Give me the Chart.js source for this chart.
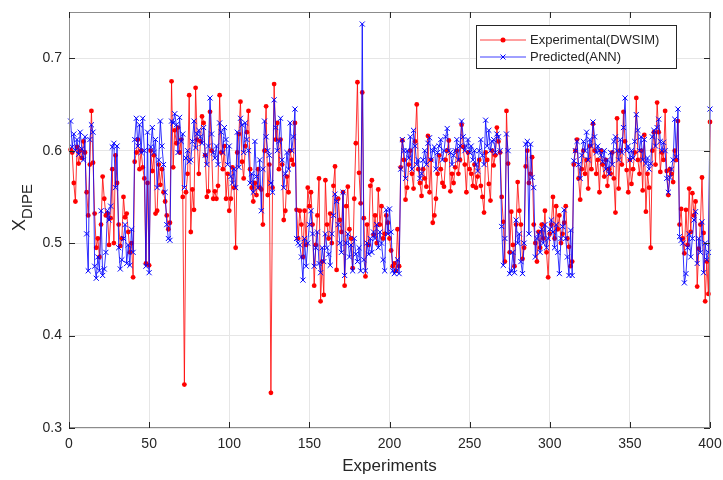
<!DOCTYPE html>
<html>
<head>
<meta charset="utf-8">
<script src="https://cdn.jsdelivr.net/npm/chart.js@4.4.1/dist/chart.umd.min.js"></script>
<style>
    body { margin: 0; background: #ffffff; }
    #xdipeChart { display: block; }
</style>
</head>
<body>
<canvas id="xdipeChart" width="723" height="480"></canvas>
<script>
const experimental = [
    0.601, 0.598, 0.565, 0.545, 0.604, 0.586, 0.600, 0.592, 0.610, 0.598,
    0.555, 0.530, 0.585, 0.643, 0.587, 0.532, 0.495, 0.505, 0.485, 0.520,
    0.572, 0.548, 0.530, 0.532, 0.498, 0.527, 0.580, 0.500, 0.595, 0.565,
    0.520, 0.497, 0.505, 0.550, 0.528, 0.532, 0.512, 0.490, 0.500, 0.463,
    0.588, 0.598, 0.612, 0.580, 0.600, 0.582, 0.570, 0.478, 0.565, 0.476,
    0.600, 0.578, 0.595, 0.532, 0.535, 0.585, 0.563, 0.580, 0.555, 0.545,
    0.530, 0.515, 0.522, 0.675, 0.582, 0.622, 0.608, 0.625, 0.598, 0.612,
    0.550, 0.347, 0.555, 0.575, 0.660, 0.512, 0.558, 0.536, 0.668, 0.612,
    0.575, 0.610, 0.637, 0.630, 0.595, 0.550, 0.556, 0.642, 0.600, 0.548,
    0.556, 0.548, 0.562, 0.660, 0.598, 0.580, 0.605, 0.548, 0.575, 0.535,
    0.548, 0.582, 0.560, 0.495, 0.598, 0.618, 0.653, 0.588, 0.570, 0.605,
    0.620, 0.643, 0.580, 0.560, 0.545, 0.565, 0.552, 0.580, 0.560, 0.558,
    0.520, 0.600, 0.648, 0.552, 0.585, 0.338, 0.560, 0.672, 0.612, 0.630,
    0.580, 0.612, 0.585, 0.525, 0.535, 0.572, 0.555, 0.600, 0.590, 0.585,
    0.630, 0.536, 0.505, 0.535, 0.520, 0.485, 0.535, 0.498, 0.560, 0.540,
    0.555, 0.520, 0.454, 0.498, 0.530, 0.570, 0.437, 0.480, 0.444, 0.568,
    0.520, 0.505, 0.532, 0.500, 0.562, 0.583, 0.471, 0.548, 0.525, 0.512,
    0.555, 0.454, 0.540, 0.561, 0.515, 0.505, 0.473, 0.548, 0.608, 0.674,
    0.576, 0.543, 0.663, 0.527, 0.464, 0.520, 0.498, 0.562, 0.568, 0.509,
    0.530, 0.500, 0.558, 0.520, 0.540, 0.505, 0.510, 0.530, 0.522, 0.505,
    0.492, 0.475, 0.478, 0.470, 0.515, 0.475, 0.582, 0.611, 0.590, 0.547,
    0.560, 0.585, 0.600, 0.575, 0.559, 0.610, 0.650, 0.580, 0.565, 0.551,
    0.580, 0.570, 0.561, 0.616, 0.555, 0.590, 0.522, 0.530, 0.548, 0.575,
    0.595, 0.580, 0.565, 0.561, 0.590, 0.600, 0.611, 0.556, 0.575, 0.565,
    0.582, 0.600, 0.575, 0.590, 0.628, 0.604, 0.585, 0.555, 0.598, 0.580,
    0.575, 0.562, 0.585, 0.560, 0.572, 0.590, 0.562, 0.550, 0.533, 0.598,
    0.590, 0.564, 0.546, 0.600, 0.584, 0.595, 0.625, 0.610, 0.598, 0.550,
    0.523, 0.480, 0.643, 0.586, 0.490, 0.534, 0.498, 0.475, 0.520, 0.566,
    0.535, 0.520, 0.483, 0.495, 0.583, 0.600, 0.565, 0.575, 0.593, 0.520,
    0.500, 0.480, 0.512, 0.495, 0.520, 0.505, 0.535, 0.490, 0.463, 0.510,
    0.520, 0.550, 0.505, 0.540, 0.515, 0.530, 0.500, 0.510, 0.522, 0.540,
    0.505, 0.496, 0.475, 0.480, 0.585, 0.600, 0.612, 0.570, 0.547, 0.580,
    0.600, 0.575, 0.590, 0.559, 0.605, 0.580, 0.629, 0.600, 0.575, 0.590,
    0.555, 0.600, 0.585, 0.572, 0.590, 0.562, 0.580, 0.575, 0.598, 0.570,
    0.533, 0.635, 0.559, 0.600, 0.585, 0.642, 0.610, 0.579, 0.555, 0.590,
    0.564, 0.580, 0.598, 0.657, 0.590, 0.575, 0.600, 0.557, 0.617, 0.534,
    0.575, 0.560, 0.495, 0.600, 0.620, 0.585, 0.652, 0.620, 0.577, 0.598,
    0.590, 0.643, 0.578, 0.552, 0.580, 0.575, 0.566, 0.600, 0.590, 0.632,
    0.520, 0.537, 0.505, 0.489, 0.536, 0.498, 0.559, 0.512, 0.554, 0.530,
    0.545, 0.453, 0.494, 0.520, 0.571, 0.511, 0.437, 0.480, 0.445, 0.631
];

const predicted = [
    0.632, 0.604, 0.618, 0.600, 0.612, 0.596, 0.620, 0.602, 0.590, 0.615,
    0.510, 0.470, 0.612, 0.628, 0.620, 0.475, 0.462, 0.485, 0.470, 0.535,
    0.465, 0.472, 0.490, 0.535, 0.525, 0.540, 0.604, 0.608, 0.560, 0.605,
    0.495, 0.472, 0.482, 0.505, 0.520, 0.478, 0.498, 0.476, 0.515, 0.490,
    0.612, 0.635, 0.605, 0.628, 0.598, 0.635, 0.600, 0.475, 0.620, 0.468,
    0.604, 0.625, 0.598, 0.612, 0.560, 0.590, 0.632, 0.605, 0.585, 0.555,
    0.520, 0.505, 0.503, 0.632, 0.630, 0.640, 0.628, 0.598, 0.636, 0.610,
    0.618, 0.560, 0.592, 0.600, 0.588, 0.590, 0.610, 0.632, 0.603, 0.618,
    0.622, 0.615, 0.608, 0.625, 0.595, 0.585, 0.605, 0.657, 0.618, 0.598,
    0.592, 0.605, 0.585, 0.630, 0.620, 0.598, 0.625, 0.612, 0.585, 0.605,
    0.572, 0.565, 0.580, 0.560, 0.620, 0.582, 0.635, 0.628, 0.598, 0.630,
    0.612, 0.600, 0.565, 0.575, 0.555, 0.610, 0.572, 0.560, 0.590, 0.535,
    0.580, 0.632, 0.615, 0.600, 0.595, 0.565, 0.555, 0.655, 0.625, 0.600,
    0.610, 0.635, 0.590, 0.560, 0.575, 0.598, 0.580, 0.630, 0.600, 0.615,
    0.645, 0.505, 0.500, 0.498, 0.485, 0.460, 0.505, 0.475, 0.500, 0.520,
    0.535, 0.510, 0.475, 0.495, 0.512, 0.478, 0.468, 0.495, 0.480, 0.510,
    0.495, 0.488, 0.476, 0.510, 0.530, 0.553, 0.545, 0.520, 0.500, 0.490,
    0.555, 0.465, 0.500, 0.510, 0.485, 0.498, 0.470, 0.505, 0.488, 0.480,
    0.495, 0.470, 0.737, 0.482, 0.470, 0.500, 0.488, 0.505, 0.490, 0.512,
    0.505, 0.520, 0.495, 0.512, 0.500, 0.482, 0.470, 0.536, 0.510, 0.537,
    0.512, 0.470, 0.467, 0.470, 0.482, 0.467, 0.580, 0.612, 0.600, 0.570,
    0.600, 0.592, 0.615, 0.580, 0.622, 0.605, 0.585, 0.590, 0.570, 0.575,
    0.590, 0.600, 0.585, 0.608, 0.614, 0.590, 0.600, 0.604, 0.580, 0.598,
    0.605, 0.612, 0.590, 0.600, 0.615, 0.624, 0.600, 0.598, 0.585, 0.595,
    0.600, 0.612, 0.590, 0.605, 0.632, 0.615, 0.600, 0.605, 0.612, 0.598,
    0.605, 0.590, 0.600, 0.585, 0.578, 0.600, 0.612, 0.595, 0.585, 0.633,
    0.605, 0.622, 0.600, 0.610, 0.612, 0.598, 0.618, 0.615, 0.600, 0.518,
    0.476, 0.505, 0.618, 0.600, 0.467, 0.470, 0.490, 0.468, 0.525, 0.500,
    0.510, 0.480, 0.467, 0.500, 0.607, 0.610, 0.510, 0.607, 0.571, 0.560,
    0.485, 0.505, 0.510, 0.490, 0.515, 0.500, 0.520, 0.495, 0.505, 0.515,
    0.525, 0.512, 0.495, 0.520, 0.490, 0.467, 0.505, 0.518, 0.536, 0.505,
    0.485, 0.465, 0.514, 0.465, 0.589, 0.600, 0.610, 0.585, 0.570, 0.595,
    0.610, 0.600, 0.620, 0.590, 0.612, 0.605, 0.631, 0.615, 0.598, 0.605,
    0.600, 0.595, 0.588, 0.600, 0.580, 0.590, 0.575, 0.598, 0.585, 0.610,
    0.615, 0.600, 0.590, 0.612, 0.598, 0.625, 0.657, 0.600, 0.605, 0.590,
    0.600, 0.592, 0.610, 0.639, 0.622, 0.600, 0.615, 0.590, 0.612, 0.586,
    0.592, 0.580, 0.586, 0.615, 0.622, 0.605, 0.625, 0.634, 0.610, 0.600,
    0.609, 0.600, 0.570, 0.555, 0.571, 0.580, 0.590, 0.634, 0.593, 0.645,
    0.507, 0.503, 0.500, 0.457, 0.467, 0.495, 0.510, 0.485, 0.505, 0.525,
    0.534, 0.478, 0.505, 0.490, 0.523, 0.468, 0.500, 0.482, 0.490, 0.645
];

const experiments = experimental.map((_, i) => i + 1);
const xTicks = [0, 50, 100, 150, 200, 250, 300, 350, 400];
const yTicks = [0.3, 0.4, 0.5, 0.6, 0.7];
const seriesNames = ['Experimental(DWSIM)', 'Predicted(ANN)'];

const RED = '#ff0000';
const BLUE = '#0000ff';
const TEXT = '#262626';
const FONT = '"Liberation Sans", Arial, sans-serif';

// box, inward ticks, axis titles and legend, MATLAB style
const matlabFrame = {
    id: 'matlabFrame',
    afterDraw(chart) {
        const { ctx, chartArea: a, scales } = chart;
        ctx.save();

        ctx.strokeStyle = '#8c8c8c';
        ctx.lineWidth = 1;
        ctx.strokeRect(a.left + 0.5, a.top + 0.5, a.right - a.left - 1, a.bottom - a.top - 1);

        ctx.strokeStyle = '#262626';
        ctx.beginPath();
        xTicks.forEach(v => {
            const x = Math.round(scales.x.getPixelForValue(v)) + 0.5;
            ctx.moveTo(x, a.bottom); ctx.lineTo(x, a.bottom - 6);
            ctx.moveTo(x, a.top); ctx.lineTo(x, a.top + 6);
        });
        yTicks.forEach(v => {
            const y = Math.round(scales.y.getPixelForValue(v)) + 0.5;
            ctx.moveTo(a.left, y); ctx.lineTo(a.left + 6, y);
            ctx.moveTo(a.right, y); ctx.lineTo(a.right - 6, y);
        });
        ctx.stroke();

        // axis titles
        ctx.fillStyle = TEXT;
        ctx.font = `17px ${FONT}`;
        ctx.textAlign = 'center';
        ctx.textBaseline = 'middle';
        ctx.fillText('Experiments', (a.left + a.right) / 2, 466);

        ctx.save();
        ctx.translate(25, 231);
        ctx.rotate(-Math.PI / 2);
        ctx.textAlign = 'left';
        ctx.textBaseline = 'alphabetic';
        ctx.font = `18px ${FONT}`;
        ctx.fillText('X', 0, 0);
        const xw = ctx.measureText('X').width;
        ctx.font = `15px ${FONT}`;
        ctx.fillText('DIPE', xw, 7);
        ctx.restore();

        // legend
        const lx = 476, ly = 25, lw = 200, lh = 43;
        ctx.fillStyle = '#ffffff';
        ctx.fillRect(lx, ly, lw, lh);
        ctx.strokeStyle = '#262626';
        ctx.strokeRect(lx + 0.5, ly + 0.5, lw, lh);

        const rows = [
            { y: 40, color: RED, name: seriesNames[0], marker: 'dot' },
            { y: 57, color: BLUE, name: seriesNames[1], marker: 'cross' }
        ];
        rows.forEach(r => {
            ctx.strokeStyle = r.color;
            ctx.globalAlpha = 0.75;
            ctx.beginPath();
            ctx.moveTo(480, r.y); ctx.lineTo(526, r.y);
            ctx.stroke();
            ctx.globalAlpha = 1;
            if (r.marker === 'dot') {
                ctx.fillStyle = r.color;
                ctx.beginPath();
                ctx.arc(503, r.y, 2.5, 0, Math.PI * 2);
                ctx.fill();
            } else {
                ctx.beginPath();
                ctx.moveTo(500.5, r.y - 2.5); ctx.lineTo(505.5, r.y + 2.5);
                ctx.moveTo(505.5, r.y - 2.5); ctx.lineTo(500.5, r.y + 2.5);
                ctx.stroke();
            }
            ctx.fillStyle = TEXT;
            ctx.font = `13px ${FONT}`;
            ctx.textAlign = 'left';
            ctx.textBaseline = 'middle';
            ctx.fillText(r.name, 530, r.y);
        });

        ctx.restore();
    }
};

new Chart(document.getElementById('xdipeChart'), {
    type: 'line',
    data: {
        labels: experiments,
        datasets: [{
            label: seriesNames[0],
            data: experiments.map((x, i) => ({ x, y: experimental[i] })),
            borderColor: 'rgba(255, 0, 0, 0.8)',
            backgroundColor: RED,
            borderWidth: 1,
            pointStyle: 'circle',
            pointRadius: 2.4,
            pointBorderWidth: 0,
            pointBackgroundColor: RED,
            tension: 0,
            clip: 6,
            order: 1
        }, {
            label: seriesNames[1],
            data: experiments.map((x, i) => ({ x, y: predicted[i] })),
            borderColor: 'rgba(0, 0, 255, 0.8)',
            backgroundColor: BLUE,
            borderWidth: 1,
            pointStyle: 'crossRot',
            pointRadius: 3.6,
            pointBorderWidth: 1,
            pointBorderColor: BLUE,
            tension: 0,
            clip: 6,
            order: 0
        }]
    },
    options: {
        responsive: false,
        animation: false,
        devicePixelRatio: 1,
        layout: { padding: { top: 12, right: 13, left: 0, bottom: 0 } },
        plugins: {
            legend: { display: false },
            tooltip: { enabled: false }
        },
        scales: {
            x: {
                type: 'linear',
                min: 0,
                max: 400,
                afterBuildTicks: scale => { scale.ticks = xTicks.map(value => ({ value })); },
                afterFit: scale => {
                    scale.height = 52;
                    scale.paddingLeft = 0;
                    scale.paddingRight = 0;
                },
                grid: { color: '#e6e6e6', drawTicks: false },
                border: { display: false },
                ticks: { color: TEXT, font: { family: FONT, size: 14 }, padding: 8, maxRotation: 0 }
            },
            y: {
                min: 0.3,
                max: 0.75,
                afterBuildTicks: scale => { scale.ticks = yTicks.map(value => ({ value })); },
                afterFit: scale => {
                    scale.width = 69;
                    scale.paddingTop = 0;
                    scale.paddingBottom = 0;
                },
                grid: { color: '#e6e6e6', drawTicks: false },
                border: { display: false },
                ticks: {
                    color: TEXT,
                    font: { family: FONT, size: 14 },
                    padding: 7,
                    callback: v => v.toFixed(1)
                }
            }
        }
    },
    plugins: [matlabFrame]
});
</script>
</body>
</html>
